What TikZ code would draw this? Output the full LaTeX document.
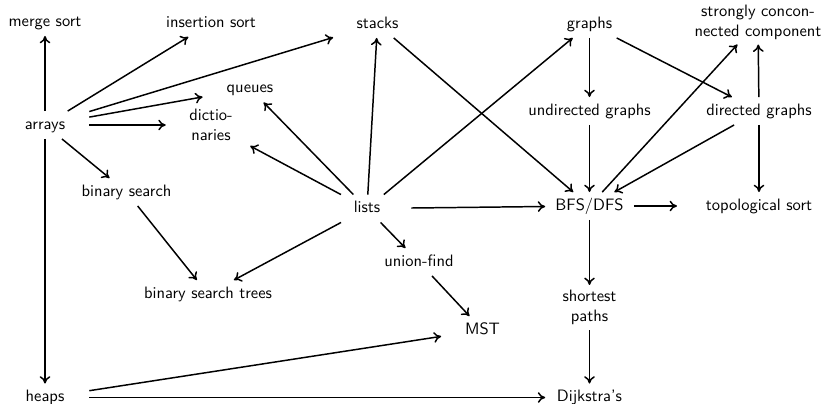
\documentclass[tikz,border=0pt]{standalone}
\usetikzlibrary{arrows.meta}
\begin{document}
\begin{tikzpicture}[x=0.606pt,y=-0.606pt,
  lbl/.style={font=\sffamily, inner sep=3pt, text height=7pt, text depth=2pt,
    minimum height=16.5pt, minimum width=53.3pt},
  lbltwo/.style={font=\sffamily, align=center, inner sep=3pt, minimum width=53.3pt},
  conn/.style={->, line width=0.9pt, >={To[length=4.5pt,width=6.5pt]}}]
\useasboundingbox (0,0) rectangle (826,403);
\node[lbl] (merge) at (45,22) {merge sort};
\node[lbl] (ins) at (211,23) {insertion sort};
\node[lbl] (stacks) at (377.5,24) {stacks};
\node[lbl] (graphs) at (589.5,24) {graphs};
\node[lbltwo] (scc) at (758,22) {strongly concon-\\nected component};
\node[lbl] (arrays) at (45,125) {arrays};
\node[lbl, minimum width=57pt] (queues) at (250,88.5) {queues};
\node[lbltwo, minimum width=54.5pt] (dict) at (211,125) {dictio-\\naries};
\node[lbl] (undir) at (589.5,111) {undirected graphs};
\node[lbl] (dir) at (759,111) {directed graphs};
\node[lbl] (bs) at (126.5,192) {binary search};
\node[lbl] (lists) at (367,208.5) {lists};
\node[lbl] (bfs) at (589.5,206) {BFS/DFS};
\node[lbl, minimum width=99pt] (topo) at (759,206) {topological sort};
\node[lbl] (uf) at (419,262) {union-find};
\node[lbl] (bst) at (208,294) {binary search trees};
\node[lbltwo] (sp) at (589.5,307.5) {shortest\\paths};
\node[lbl, minimum width=49.7pt] (mst) at (482.5,330) {MST};
\node[lbl] (heaps) at (45,397.5) {heaps};
\node[lbl] (dij) at (589.5,397.5) {Dijkstra's};

\draw[conn] (arrays) -- (merge);
\draw[conn] (arrays) -- (ins);
\draw[conn] (arrays) -- (stacks);
\draw[conn] (arrays) -- (queues);
\draw[conn] (arrays) -- (dict);
\draw[conn] (arrays) -- (bs);
\draw[conn] (arrays) -- (heaps);
\draw[conn] (bs) -- (bst);
\draw[conn] (lists) -- (queues);
\draw[conn] (lists) -- (dict);
\draw[conn] (lists) -- (stacks);
\draw[conn] (lists) -- (graphs);
\draw[conn] (lists) -- (bfs);
\draw[conn] (lists) -- (uf);
\draw[conn] (lists) -- (bst);
\draw[conn] (stacks) -- (bfs);
\draw[conn] (graphs) -- (undir);
\draw[conn] (graphs) -- (dir);
\draw[conn] (undir) -- (bfs);
\draw[conn] (dir) -- (bfs);
\draw[conn] (bfs) -- (scc);
\draw[conn] (dir) -- (scc);
\draw[conn] (dir) -- (topo);
\draw[conn] (bfs) -- (topo);
\draw[conn] (bfs) -- (sp);
\draw[conn] (sp) -- (dij);
\draw[conn] (uf) -- (mst);
\draw[conn] (heaps) -- (mst);
\draw[conn] (heaps) -- (dij);
\end{tikzpicture}
\end{document}
